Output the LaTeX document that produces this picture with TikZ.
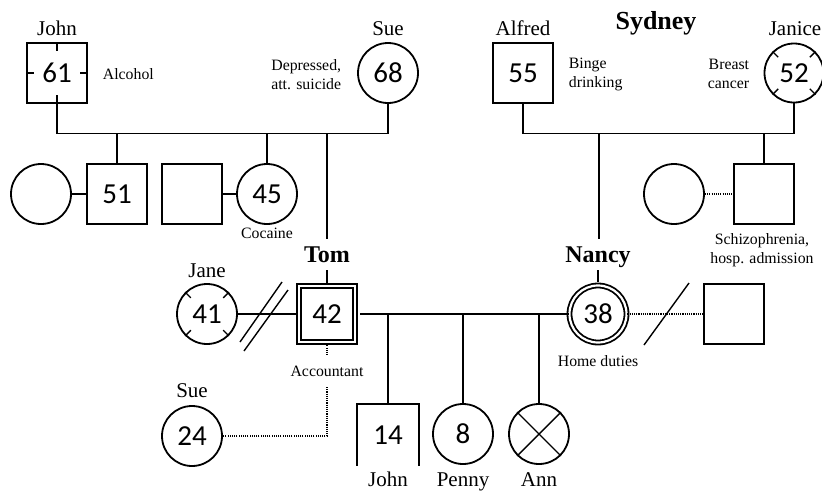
\documentclass[tikz,border=0pt]{standalone}
\usepackage{fontspec}
\setmainfont{Liberation Serif}
\newfontfamily\numfont{Carlito}
\usetikzlibrary{calc}
\begin{document}
\begin{tikzpicture}[x=1pt,y=-1pt,line width=1.8pt,
  person/.style={minimum size=60pt,inner sep=0pt,font=\numfont\fontsize{29}{29}\selectfont},
  male/.style={person,draw,rectangle},
  female/.style={person,draw,circle},
  nolabel/.style={person,rectangle},
  dbl/.style={double,double distance=2.2pt,line width=1.8pt},
  dotline/.style={line width=1.1pt,dash pattern=on 1.1pt off 1.1pt},
  thinline/.style={line width=1.4pt},
  pname/.style={font=\fontsize{21}{21}\selectfont,inner sep=0pt,anchor=base},
  bname/.style={font=\bfseries\fontsize{24}{24}\selectfont,inner sep=0pt,anchor=base},
  pnote/.style={font=\fontsize{15.8}{19}\selectfont,inner sep=0pt}]
\useasboundingbox (0,0) rectangle (822,491);

% generation 1
\node[male] (john61) at (57,73) {61};
\node[female] (sue68) at (388,73) {68};
\node[male] (alfred55) at (523,73) {55};
\node[female,minimum size=59pt] (janice52) at (794,73) {52};

% generation 2
\node[female] (c1) at (41,194) {};
\node[male] (s51) at (117,194) {51};
\node[male] (sq) at (192,194) {};
\node[female] (c45) at (267,194) {45};
\node[female] (c674) at (674,194) {};
\node[male] (sq764) at (764,194) {};

% generation 3
\node[female] (jane41) at (207,314) {41};
\node[person,draw,rectangle,dbl,minimum size=56.5pt] (tom42) at (327,314) {42};
\node[person,draw,circle,dbl,minimum size=57pt] (nancy38) at (598,314) {38};
\node[male] (ex) at (734,314) {};
\node[female] (sue24) at (192,436) {24};

% generation 4
\node[nolabel] (john14) at (388,435) {14};
\node[female] (penny8) at (463,434) {8};
\node[female] (ann) at (539,434) {};

% names
\node[pname] (lJohn) at (57,35) {John};
\node[pname] (lSue) at (388,35) {Sue};
\node[pname] (lAlfred) at (523,35) {Alfred};
\node[pname] (lJanice) at (795,35) {Janice};
\node[bname,font=\bfseries\fontsize{26}{26}\selectfont] (lSydney) at (656,29) {Sydney};
\node[bname] (lTom) at (327,262) {Tom};
\node[bname] (lNancy) at (598,262) {Nancy};
\node[pname] (lJane) at (207,277) {Jane};
\node[pname] (lSue2) at (192,397) {Sue};
\node[pname] (lJohn2) at (388,486) {John};
\node[pname] (lPenny) at (463,486) {Penny};
\node[pname] (lAnn) at (539,486) {Ann};

% notes
\node[pnote,anchor=west] (nAlc) at (102,74) {Alcohol};
\node[pnote,anchor=east,align=right] (nDep) at (342,75) {Depressed,\\att. suicide};
\node[pnote,anchor=west,align=left] (nBinge) at (568,74) {Binge\\drinking};
\node[pnote,anchor=east,align=right] (nBreast) at (750,74) {Breast\\cancer};
\node[pnote] (nCoc) at (267,233) {Cocaine};
\node[pnote,align=center] (nSch) at (762,250) {Schizophrenia,\\hosp. admission};
\node[pnote] (nAcc) at (327,371) {Accountant};
\node[pnote] (nHome) at (598,361) {Home duties};

% square 14 (three sides, as shown)
\draw (john14.south west) -- (john14.north west) -- (john14.north east) -- (john14.south east);

% ticks
\draw[thinline] (john61.north) -- ++(0,9);
\draw[thinline] (john61.south) -- ++(0,-9);
\draw[thinline] (john61.west) -- ++(8,0);
\draw[thinline] (john61.east) -- ++(-8,0);
\foreach \a in {45,135,225,315} {
  \draw[thinline] (jane41.\a) -- ($(jane41.\a)!8pt!(jane41.center)$);
  \draw[thinline] (janice52.\a) -- ($(janice52.\a)!8pt!(janice52.center)$);
}
\draw[thinline] (ann.45) -- (ann.225);
\draw[thinline] (ann.135) -- (ann.315);

% family 1
\coordinate (b1L) at (57,133.5);
\coordinate (b1R) at (388,133.5);
\draw (john61.south) -- (b1L) -- (b1R) -- (sue68.south);
\draw (s51.north) -- (s51.north |- b1L);
\draw (c45.north) -- (c45.north |- b1L);
\coordinate (tomtop) at (327,239);
\draw (tomtop |- b1L) -- (tomtop);
\coordinate (tomtick) at (327,270);
\coordinate (tomtickb) at (327,283);
\draw[thinline] (tomtick) -- (tomtickb);
\draw (c1.east) -- (s51.west);
\draw (sq.east) -- (c45.west);

% family 2
\coordinate (b2L) at (523,133.5);
\coordinate (b2R) at (794,133.5);
\draw (alfred55.south) -- (b2L) -- (b2R) -- (janice52.south);
\draw (sq764.north) -- (sq764.north |- b2L);
\coordinate (nantop) at (599,239);
\draw (nantop |- b2L) -- (nantop);
\coordinate (nantick) at (598,270);
\coordinate (nantickb) at (598,282);
\draw[thinline] (nantick) -- (nantickb);
\draw[dotline] (c674.east) -- (sq764.west);

% Tom's relations
\draw (jane41.east) -- (tom42.west);
\coordinate (d1a) at (240,342);
\coordinate (d1b) at (282,282);
\coordinate (d2a) at (244,351);
\coordinate (d2b) at (288,290);
\draw[thinline] (d1a) -- (d1b);
\draw[thinline] (d2a) -- (d2b);
\draw[shorten <=4pt] (tom42.east) -- (nancy38.west);
\draw (john14.north) -- (john14.north |- tom42.east);
\draw (penny8.north) -- (penny8.north |- tom42.east);
\draw (ann.north) -- (ann.north |- tom42.east);
\coordinate (accbot) at (327,355);
\draw[dotline] (tom42.south) -- (accbot);
\coordinate (acctop) at (327,387);
\coordinate (acccorner) at (327,436);
\draw[dotline] (acctop) -- (acccorner) -- (sue24.east);

% Nancy's ex
\draw[dotline] (nancy38.east) -- (ex.west);
\coordinate (s1a) at (644,345);
\coordinate (s1b) at (689,283);
\draw[thinline] (s1a) -- (s1b);
\end{tikzpicture}
\end{document}
